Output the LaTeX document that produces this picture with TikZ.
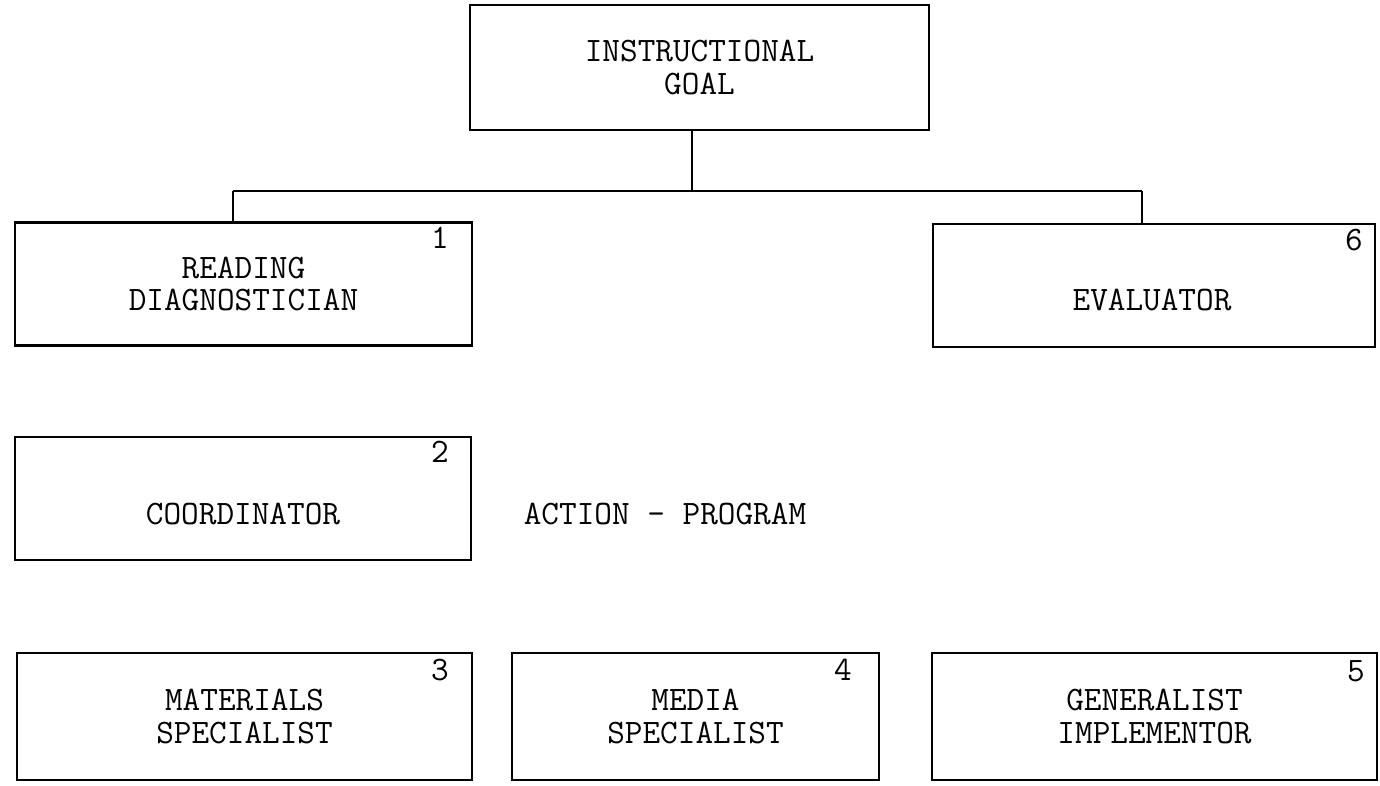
\documentclass[tikz,border=0pt]{standalone}
\usetikzlibrary{calc}

\begin{document}
\begin{tikzpicture}[x=0.02cm,y=-0.02cm,
    box/.style={draw, line width=1.3pt, minimum height=2.46cm, inner sep=0pt,
      align=center, font=\ttfamily\fontsize{19.5}{18.5}\selectfont},
    num/.style={inner sep=0pt, font=\ttfamily\fontsize{19.5}{18.5}\selectfont}]
  \useasboundingbox (0,0) rectangle (1380,785);

  % boxes
  \node (goal) at (699.5,67.5) [box, minimum width=9.18cm, minimum height=2.5cm] {INSTRUCTIONAL\\GOAL};
  \node (reading) at (243.5,284) [box, minimum width=9.14cm] {READING\\DIAGNOSTICIAN};
  \node (evaluator) at (1154,285.5) [box, minimum width=8.84cm] {};
  \node (coordinator) at (243,498.5) [box, minimum width=9.12cm] {};
  \node (materials) at (244.5,716.5) [box, minimum width=9.1cm, minimum height=2.54cm] {MATERIALS\\SPECIALIST};
  \node (media) at (695.5,716.5) [box, minimum width=7.34cm, minimum height=2.54cm] {MEDIA\\SPECIALIST};
  \node (generalist) at (1154.5,716.5) [box, minimum width=8.9cm, minimum height=2.54cm] {GENERALIST\\IMPLEMENTOR};

  \node (evaltext) at (1152,300) [num] {EVALUATOR};
  \node (coordtext) at (243,514) [num] {COORDINATOR};
  \node (action) at (665,514) [num] {ACTION - PROGRAM};

  % numbers
  \node (n1) at (440,238) [num] {1};
  \node (n2) at (440,452) [num] {2};
  \node (n3) at (440,670) [num] {3};
  \node (n4) at (843,670) [num] {4};
  \node (n5) at (1356,671) [num] {5};
  \node (n6) at (1354,240) [num] {6};

  % connectors
  \coordinate (bus) at (692,191);
  \coordinate (busL) at (233,191);
  \coordinate (busR) at (1142,191);
  \draw[line width=1.3pt] (bus |- goal.south) -- (bus);
  \draw[line width=1.3pt] (busL) -- (busR);
  \draw[line width=1.3pt] (busL) -- (busL |- reading.north);
  \draw[line width=1.3pt] (busR) -- (busR |- evaluator.north);
\end{tikzpicture}
\end{document}
